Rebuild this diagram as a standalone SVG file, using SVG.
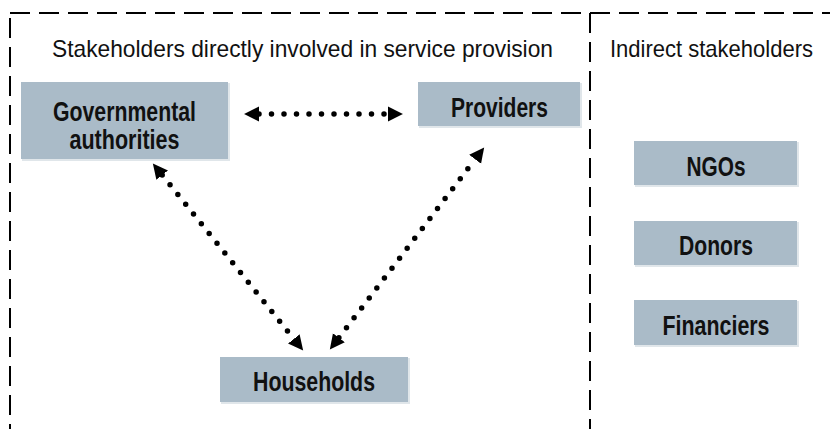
<svg xmlns="http://www.w3.org/2000/svg" width="830" height="429" viewBox="0 0 830 429">
<defs>
<style>
.frame{fill:none;stroke:#000;stroke-width:2;stroke-dasharray:20 9}
.box{fill:#AABBC8}
.shadow{fill:#E0E6EA}
.lbl{font-family:"Liberation Sans",Arial,sans-serif;font-weight:bold;font-size:27px;fill:#111;text-anchor:middle}
.title{font-family:"Liberation Sans",Arial,sans-serif;font-size:24px;fill:#111}
.link{fill:none;stroke:#000;stroke-width:5.5;stroke-linecap:round;stroke-dasharray:0 12.5}
</style>
<marker id="ah" markerUnits="userSpaceOnUse" markerWidth="16" markerHeight="16" refX="0" refY="7" orient="auto-start-reverse" viewBox="0 0 15 14">
<path d="M0,0 L14,7 L0,14 z" fill="#000"/>
</marker>
</defs>
<rect width="830" height="429" fill="#fff"/>
<g id="frame">
<path class="frame" d="M10,13 H830"/>
<path class="frame" d="M10,18 V429"/>
<path class="frame" d="M590,13 V429"/>
</g>
<g id="section-titles">
<text class="title" x="52" y="57" textLength="501" lengthAdjust="spacingAndGlyphs">Stakeholders directly involved in service provision</text>
<text class="title" x="610" y="57" textLength="203" lengthAdjust="spacingAndGlyphs">Indirect stakeholders</text>
</g>
<g id="connectors">
<path class="link" d="M259,114 H388" marker-start="url(#ah)" marker-end="url(#ah)"/>
<path class="link" d="M162.2,175.1 L293.8,338.9" marker-start="url(#ah)" marker-end="url(#ah)"/>
<path class="link" d="M338.9,337.7 L475.1,159.3" marker-start="url(#ah)" marker-end="url(#ah)"/>
</g>
<g id="node-governmental">
<rect class="shadow" x="22" y="83" width="208" height="78"/>
<rect class="box" x="21" y="82" width="207" height="77"/>
<text class="lbl" x="124.5" y="121" textLength="143" lengthAdjust="spacingAndGlyphs">Governmental</text>
<text class="lbl" x="124.5" y="149" textLength="110" lengthAdjust="spacingAndGlyphs">authorities</text>
</g>
<g id="node-providers">
<rect class="shadow" x="419" y="83" width="163" height="45"/>
<rect class="box" x="418" y="82" width="162" height="44"/>
<text class="lbl" x="499.5" y="117" textLength="97" lengthAdjust="spacingAndGlyphs">Providers</text>
</g>
<g id="node-households">
<rect class="shadow" x="221" y="358" width="189" height="46"/>
<rect class="box" x="220" y="357" width="188" height="45"/>
<text class="lbl" x="314" y="391" textLength="122" lengthAdjust="spacingAndGlyphs">Households</text>
</g>
<g id="node-ngos">
<rect class="shadow" x="635" y="142" width="164" height="45"/>
<rect class="box" x="634" y="141" width="163" height="44"/>
<text class="lbl" x="716" y="176" textLength="59" lengthAdjust="spacingAndGlyphs">NGOs</text>
</g>
<g id="node-donors">
<rect class="shadow" x="635" y="222" width="164" height="45"/>
<rect class="box" x="634" y="221" width="163" height="44"/>
<text class="lbl" x="716" y="255" textLength="74" lengthAdjust="spacingAndGlyphs">Donors</text>
</g>
<g id="node-financiers">
<rect class="shadow" x="635" y="301" width="164" height="46"/>
<rect class="box" x="634" y="300" width="163" height="45"/>
<text class="lbl" x="716" y="335" textLength="107" lengthAdjust="spacingAndGlyphs">Financiers</text>
</g>
</svg>
